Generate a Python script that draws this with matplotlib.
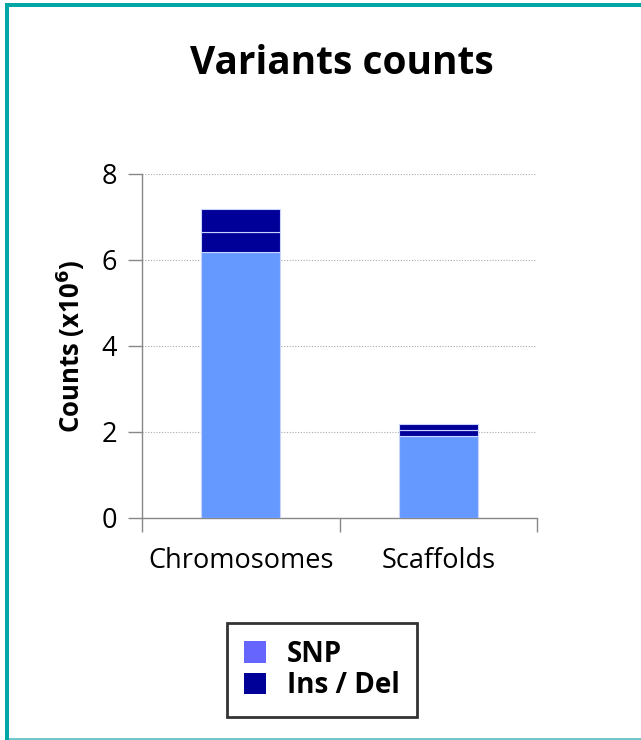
import matplotlib
matplotlib.use("Agg")
import matplotlib.pyplot as plt
from matplotlib.patches import Patch, Rectangle

plt.rcParams['font.family'] = ['Open Sans', 'DejaVu Sans']

categories = ["Chromosomes", "Scaffolds"]
snp = [6.19, 1.91]
ins = [0.45, 0.14]
dels = [0.55, 0.14]
y_ticks = [0, 2, 4, 6, 8]

snp_color = "#6699FF"
snp_legend_color = "#6666FF"
indel_color = "#000099"
edge_color = "#C8D4FF"

fig = plt.figure(figsize=(6.41, 7.40), dpi=100)
W, H = 641, 740

ax = fig.add_axes([142 / W, 1 - 518 / H, (537 - 142) / W, (518 - 174) / H])

x = [0.5, 1.5]
bw = 0.40
ax.bar(x, snp, width=bw, color=snp_color, edgecolor=edge_color, linewidth=0.8, zorder=3)
bottom2 = [a for a in snp]
ax.bar(x, ins, width=bw, bottom=bottom2, color=indel_color, edgecolor=edge_color, linewidth=0.8, zorder=3)
bottom3 = [a + b for a, b in zip(snp, ins)]
ax.bar(x, dels, width=bw, bottom=bottom3, color=indel_color, edgecolor=edge_color, linewidth=0.8, zorder=3)

ax.set_xlim(0, 2)
ax.set_ylim(0, 8)
ax.set_yticks(y_ticks)
ax.set_yticklabels([str(t) for t in y_ticks], fontsize=19.5)
ax.set_xticks([0, 1, 2])
ax.set_xticklabels([])
ax.set_xticks(x, minor=True)
ax.set_xticklabels(categories, minor=True, fontsize=19.5)
ax.tick_params(axis='x', which='minor', length=0, pad=21)
ax.tick_params(axis='x', which='major', length=10, width=1, color="#888888", direction='out')
ax.tick_params(axis='y', length=10, width=1, color="#888888", direction='out', pad=8)

for s in ("top", "right"):
    ax.spines[s].set_visible(False)
for s in ("left", "bottom"):
    ax.spines[s].set_color("#888888")
    ax.spines[s].set_linewidth(1)

ax.yaxis.grid(True, linestyle=(0, (1, 1.5)), color="#aaaaaa", linewidth=0.8, zorder=0)
ax.set_axisbelow(True)

ax.set_ylabel("Counts (x10$^\\mathbf{6}$)", fontsize=18.5, fontweight='bold', labelpad=10)

fig.text(342 / W, 1 - 64 / H, "Variants counts", ha='center', va='center',
         fontsize=28, fontweight='bold')

handles = [Patch(facecolor=snp_legend_color, edgecolor='none'),
           Patch(facecolor=indel_color, edgecolor='none')]
leg = fig.legend(handles, ["SNP", "Ins / Del"], loc='center',
                 bbox_to_anchor=(322 / W, 1 - 670 / H), frameon=True, fancybox=False,
                 prop={'weight': 'bold', 'size': 20}, handlelength=0.8, handleheight=0.8,
                 borderpad=0.6, labelspacing=0.1, handletextpad=0.75, borderaxespad=0)
leg.get_frame().set_edgecolor('black')
leg.get_frame().set_linewidth(2)

# frame around the whole figure
fig.patches.append(Rectangle((5 / W, 0), 4 / W, 1 - 3 / H, transform=fig.transFigure,
                             facecolor="#00A5A5", edgecolor='none'))
fig.patches.append(Rectangle((5 / W, 1 - 7 / H), 1 - 5 / W, 4 / H, transform=fig.transFigure,
                             facecolor="#00A5A5", edgecolor='none'))
fig.patches.append(Rectangle((9 / W, 0), 1 - 9 / W, 2 / H, transform=fig.transFigure,
                             facecolor="#70C8C8", edgecolor='none'))

fig.savefig("out.png", dpi=100)
